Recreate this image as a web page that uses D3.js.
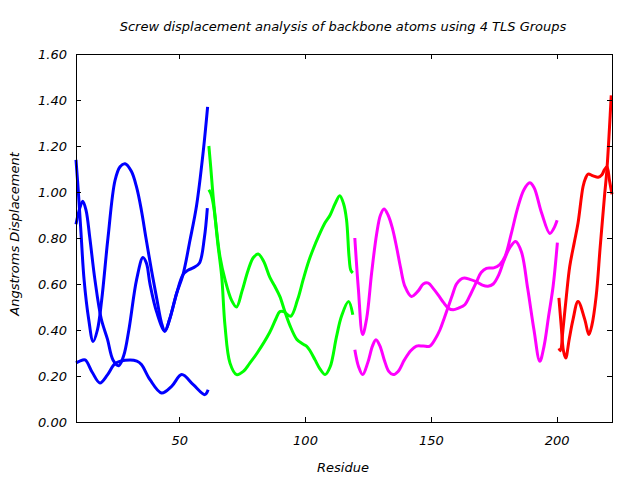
<!DOCTYPE html>
<html><head><meta charset="utf-8">
<script src="https://cdn.jsdelivr.net/npm/d3@7"></script>
<style>body{margin:0;background:#fff;} svg{display:block;} text{font-family:"DejaVu Sans",sans-serif;font-style:italic;}</style>
</head><body>
<svg id="c" width="640" height="480"></svg>
<script>
// ---- data (residue, screw displacement in Å) ----
const title = "Screw displacement analysis of backbone atoms using 4 TLS Groups";
const xLabel = "Residue";
const yLabel = "Angstroms Displacement";
const xTicks = [50, 100, 150, 200];
const yTicks = [0, 0.2, 0.4, 0.6, 0.8, 1.0, 1.2, 1.4, 1.6];

// Group 1 (blue)
const blueA_r = [9, 10, 11, 12.2, 14, 15.8, 17.5, 19.2, 21.7, 24.5, 26.5, 28.5, 31, 33.1, 35, 36.8, 39, 41.2, 43, 44.3, 46.3, 49, 51.5, 54.3, 56.9, 59.6, 61.3];
const blueA_v = [1.14, 0.99, 0.82, 0.62, 0.45, 0.35, 0.40, 0.53, 0.80, 1.05, 1.11, 1.123, 1.09, 1.02, 0.92, 0.80, 0.66, 0.53, 0.43, 0.395, 0.45, 0.56, 0.64, 0.79, 0.94, 1.18, 1.37];
const blueB_r = [9, 10.5, 11.7, 13, 14.5, 16.5, 19, 21.5, 23.7, 26, 28, 30, 33.1, 35.6, 37, 38.4, 41, 44.3, 46.3, 49, 51.5, 53.5, 55.5, 58, 60, 61.2];
const blueB_v = [0.86, 0.93, 0.96, 0.92, 0.80, 0.62, 0.45, 0.36, 0.27, 0.245, 0.29, 0.40, 0.62, 0.715, 0.69, 0.60, 0.48, 0.395, 0.45, 0.56, 0.64, 0.66, 0.67, 0.69, 0.80, 0.93];
const blueC_r = [9, 10.5, 12.6, 15.5, 18.5, 21.5, 24.5, 28.5, 33.2, 35, 38.4, 43, 47, 51, 55.6, 60.2, 61.5];
const blueC_v = [0.257, 0.265, 0.27, 0.215, 0.17, 0.205, 0.253, 0.268, 0.265, 0.25, 0.184, 0.126, 0.155, 0.206, 0.162, 0.119, 0.14];

// Group 2 (green)
const greenA_r = [61.8, 62.6, 63.5, 65, 66.2, 68.2, 70.8, 72.8, 75, 77.4, 79.5, 81.4, 83.5, 86, 88, 90, 92, 94, 96.7, 99, 100.6, 102, 104, 106, 108, 110, 112.5, 114.5, 117.3, 119];
const greenA_v = [1.20, 1.10, 0.98, 0.82, 0.72, 0.62, 0.53, 0.50, 0.57, 0.66, 0.715, 0.73, 0.70, 0.63, 0.59, 0.546, 0.48, 0.42, 0.36, 0.34, 0.33, 0.31, 0.27, 0.23, 0.206, 0.24, 0.37, 0.46, 0.524, 0.466];
const greenB_r = [61.8, 62.7, 63.8, 65.3, 66.9, 68.2, 70.2, 72.8, 75.5, 78, 81, 86, 88.5, 90, 91.5, 94.3, 97, 99.3, 101.5, 103.2, 105.5, 107.9, 110, 112, 113.8, 115.3, 116.5, 117.5, 118.2, 119];
const greenB_v = [1.01, 0.99, 0.93, 0.78, 0.633, 0.42, 0.256, 0.206, 0.22, 0.255, 0.30, 0.39, 0.45, 0.48, 0.48, 0.46, 0.53, 0.62, 0.70, 0.75, 0.81, 0.865, 0.90, 0.95, 0.984, 0.95, 0.88, 0.72, 0.66, 0.648];

// Group 3 (magenta)
const magA_r = [119.8, 121.2, 122.9, 124.5, 126.5, 128.5, 130, 131.4, 133, 134.8, 136.4, 138, 139.7, 142.3, 145, 147, 149, 151, 152.9, 155, 157, 158.9, 161, 163.5, 166, 168.2, 170, 172.1, 175, 177.4, 179.5, 182, 184.5, 187, 189.3, 191, 194, 197.3, 198.8, 200.2];
const magA_v = [0.80, 0.58, 0.38, 0.45, 0.65, 0.82, 0.90, 0.926, 0.90, 0.84, 0.76, 0.67, 0.59, 0.546, 0.57, 0.60, 0.604, 0.58, 0.553, 0.52, 0.495, 0.488, 0.495, 0.51, 0.56, 0.61, 0.65, 0.668, 0.67, 0.684, 0.72, 0.82, 0.93, 1.01, 1.04, 1.02, 0.91, 0.82, 0.84, 0.877];
const magB_r = [119.8, 121.3, 122.9, 125, 126.8, 128.2, 129.8, 131.5, 133.3, 135, 137, 139.5, 142, 144.3, 147, 149.6, 151.7, 153.6, 155.3, 156.9, 158.5, 160.2, 161.8, 163.3, 165.5, 168, 170.5, 172.7, 174.8, 177, 179, 181.5, 183.7, 186, 188.5, 191, 193.3, 195, 196.8, 198.6, 200.3];
const magB_v = [0.314, 0.24, 0.206, 0.26, 0.33, 0.358, 0.33, 0.27, 0.22, 0.206, 0.22, 0.27, 0.31, 0.33, 0.33, 0.33, 0.36, 0.40, 0.45, 0.50, 0.55, 0.60, 0.62, 0.626, 0.62, 0.61, 0.595, 0.59, 0.60, 0.64, 0.70, 0.76, 0.785, 0.74, 0.58, 0.40, 0.264, 0.33, 0.46, 0.59, 0.78];

// Group 4 (red)
const redA_r = [200.9, 201.8, 202.7, 203.6, 205, 206.5, 208.5, 211.2, 212.8, 214, 215.7, 217.3, 219, 220, 221, 221.7];
const redA_v = [0.54, 0.42, 0.31, 0.278, 0.36, 0.445, 0.524, 0.445, 0.38, 0.42, 0.546, 0.76, 0.98, 1.10, 1.28, 1.42];
const redB_r = [200.9, 201.5, 202.5, 203.8, 205.2, 207, 208.5, 210.5, 211.5, 212.5, 214.5, 216.5, 218, 219, 220, 221, 222];
const redB_v = [0.32, 0.31, 0.40, 0.54, 0.676, 0.78, 0.865, 1.024, 1.06, 1.078, 1.07, 1.064, 1.075, 1.097, 1.11, 1.05, 0.99];

const xDomain = [9, 222];
const yDomain = [0, 1.6];

const series = [
  {r: blueA_r, v: blueA_v, color: "#0000ff"},
  {r: blueB_r, v: blueB_v, color: "#0000ff"},
  {r: blueC_r, v: blueC_v, color: "#0000ff"},
  {r: greenA_r, v: greenA_v, color: "#00ff00"},
  {r: greenB_r, v: greenB_v, color: "#00ff00"},
  {r: magA_r, v: magA_v, color: "#ff00ff"},
  {r: magB_r, v: magB_v, color: "#ff00ff"},
  {r: redA_r, v: redA_v, color: "#ff0000"},
  {r: redB_r, v: redB_v, color: "#ff0000"}
];

// ---- layout ----
const L = 76, R = 612, T = 54, B = 422;
const svg = d3.select("#c");
const x = d3.scaleLinear().domain(xDomain).range([L, R]);
const y = d3.scaleLinear().domain(yDomain).range([B, T]);

const line = d3.line().x(d => x(d[0])).y(d => y(d[1])).curve(d3.curveCatmullRom.alpha(0.5));

const gLines = svg.append("g");
series.forEach(s => {
  gLines.append("path")
    .datum(s.r.map((r, i) => [r, s.v[i]]))
    .attr("d", line)
    .attr("fill", "none")
    .attr("stroke", s.color)
    .attr("stroke-width", 3)
    .attr("stroke-linejoin", "round");
});

// axes (inward ticks, mirrored)
const fs = 13;
const yAxis = d3.axisLeft(y).tickValues(yTicks).tickFormat(d3.format(".2f")).tickSizeInner(-5).tickSizeOuter(0).tickPadding(9);
const gy = svg.append("g").attr("transform", `translate(${L},0)`).call(yAxis);
const yAxisR = d3.axisRight(y).tickValues(yTicks).tickFormat("").tickSizeInner(-5).tickSizeOuter(0);
const gyr = svg.append("g").attr("transform", `translate(${R},0)`).call(yAxisR);
const xAxis = d3.axisBottom(x).tickValues(xTicks).tickFormat(d3.format("d")).tickSizeInner(-5).tickSizeOuter(0).tickPadding(14);
const gx = svg.append("g").attr("transform", `translate(0,${B})`).call(xAxis);
const xAxisT = d3.axisTop(x).tickValues(xTicks).tickFormat("").tickSizeInner(-5).tickSizeOuter(0);
const gxt = svg.append("g").attr("transform", `translate(0,${T})`).call(xAxisT);
[gy, gyr, gx, gxt].forEach(g => {
  g.select(".domain").remove();
  g.selectAll("line").attr("stroke", "#000").attr("shape-rendering", "crispEdges");
  g.selectAll("text").attr("font-size", fs).attr("fill", "#000")
    .style("font-family", '"DejaVu Sans", sans-serif').style("font-style", "italic");
});

// border
svg.append("rect").attr("x", L).attr("y", T).attr("width", R - L).attr("height", B - T)
  .attr("fill", "none").attr("stroke", "#000").attr("stroke-width", 1).attr("shape-rendering", "crispEdges");

// titles
svg.append("text").attr("x", 343).attr("y", 31).attr("text-anchor", "middle").attr("font-size", fs).text(title);
svg.append("text").attr("x", 343).attr("y", 472).attr("text-anchor", "middle").attr("font-size", fs).text(xLabel);
svg.append("text").attr("transform", "translate(19,234) rotate(-90)").attr("text-anchor", "middle").attr("font-size", fs).text(yLabel);
</script>
</body></html>
